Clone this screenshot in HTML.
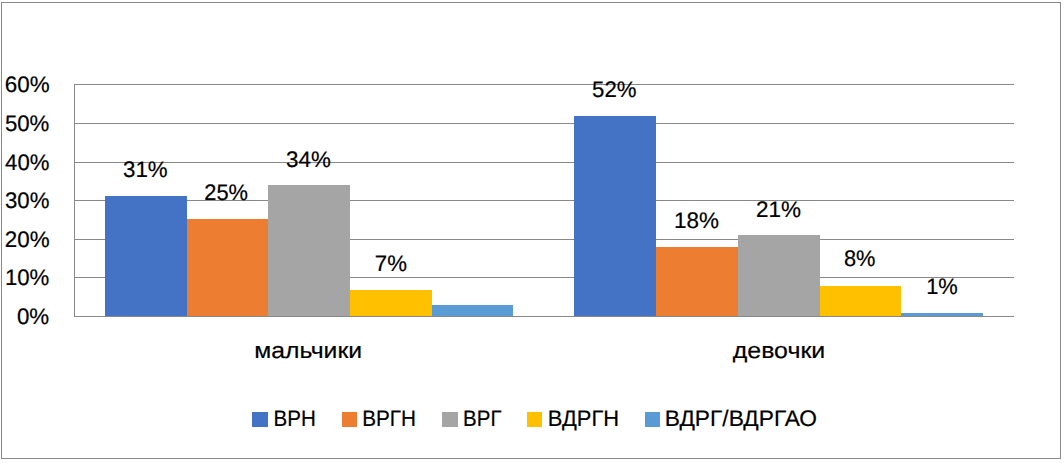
<!DOCTYPE html>
<html><head><meta charset="utf-8"><style>
html,body{margin:0;padding:0;background:#fff;width:1064px;height:463px;overflow:hidden}
svg{display:block}
text{font-family:"Liberation Sans",sans-serif;fill:#000;text-rendering:geometricPrecision;stroke:#000;stroke-width:0.2px}
</style></head><body>
<svg width="1064" height="463" viewBox="0 0 1064 463">
<rect x="0" y="0" width="1064" height="463" fill="#fff"/>
<rect x="1.5" y="2.5" width="1059" height="456" fill="none" stroke="#898989" stroke-width="1"/>
<g stroke="#898989" stroke-width="1" shape-rendering="crispEdges">
<line x1="74" y1="277.5" x2="1014" y2="277.5"/>
<line x1="74" y1="239.5" x2="1014" y2="239.5"/>
<line x1="74" y1="200.5" x2="1014" y2="200.5"/>
<line x1="74" y1="162.5" x2="1014" y2="162.5"/>
<line x1="74" y1="123.5" x2="1014" y2="123.5"/>
<line x1="74" y1="84.5" x2="1014" y2="84.5"/>
<line x1="74" y1="316.5" x2="1014" y2="316.5"/>
<line x1="74.5" y1="84" x2="74.5" y2="317"/>
</g>
<rect x="105" y="196" width="82" height="120" fill="#4472C4"/>
<rect x="187" y="219" width="81" height="97" fill="#ED7D31"/>
<rect x="268" y="185" width="82" height="131" fill="#A5A5A5"/>
<rect x="350" y="290" width="82" height="26" fill="#FFC000"/>
<rect x="432" y="305" width="81" height="11" fill="#5B9BD5"/>
<rect x="574" y="116" width="82" height="200" fill="#4472C4"/>
<rect x="656" y="247" width="82" height="69" fill="#ED7D31"/>
<rect x="738" y="235" width="82" height="81" fill="#A5A5A5"/>
<rect x="820" y="286" width="81" height="30" fill="#FFC000"/>
<rect x="901" y="313" width="82" height="3" fill="#5B9BD5"/>
<g stroke="#898989" stroke-width="1" shape-rendering="crispEdges"><line x1="74" y1="316.5" x2="1014" y2="316.5"/></g>
<rect x="252" y="412" width="16" height="15" fill="#4472C4"/>
<rect x="342" y="412" width="15" height="15" fill="#ED7D31"/>
<rect x="442" y="412" width="16" height="15" fill="#A5A5A5"/>
<rect x="527" y="412" width="15" height="15" fill="#FFC000"/>
<rect x="645" y="412" width="15" height="15" fill="#5B9BD5"/>
<text x="16.93" y="323.90" font-size="22.5" textLength="32.27" lengthAdjust="spacingAndGlyphs">0%</text>
<text x="4.91" y="284.90" font-size="22.5" textLength="44.49" lengthAdjust="spacingAndGlyphs">10%</text>
<text x="4.77" y="246.90" font-size="22.5" textLength="44.82" lengthAdjust="spacingAndGlyphs">20%</text>
<text x="4.95" y="207.90" font-size="22.5" textLength="44.44" lengthAdjust="spacingAndGlyphs">30%</text>
<text x="5.09" y="169.90" font-size="22.5" textLength="44.30" lengthAdjust="spacingAndGlyphs">40%</text>
<text x="4.91" y="130.90" font-size="22.5" textLength="44.48" lengthAdjust="spacingAndGlyphs">50%</text>
<text x="4.86" y="91.90" font-size="22.5" textLength="44.84" lengthAdjust="spacingAndGlyphs">60%</text>
<text x="123.05" y="176.58" font-size="22.5" textLength="44.64" lengthAdjust="spacingAndGlyphs">31%</text>
<text x="204.30" y="199.58" font-size="22.5" textLength="43.78" lengthAdjust="spacingAndGlyphs">25%</text>
<text x="286.05" y="166.58" font-size="22.5" textLength="44.75" lengthAdjust="spacingAndGlyphs">34%</text>
<text x="374.86" y="270.88" font-size="22.5" textLength="32.13" lengthAdjust="spacingAndGlyphs">7%</text>
<text x="592.11" y="96.98" font-size="22.5" textLength="44.48" lengthAdjust="spacingAndGlyphs">52%</text>
<text x="674.09" y="227.78" font-size="22.5" textLength="45.01" lengthAdjust="spacingAndGlyphs">18%</text>
<text x="755.97" y="216.78" font-size="22.5" textLength="45.03" lengthAdjust="spacingAndGlyphs">21%</text>
<text x="843.95" y="266.48" font-size="22.5" textLength="31.53" lengthAdjust="spacingAndGlyphs">8%</text>
<text x="926.13" y="293.78" font-size="22.5" textLength="31.65" lengthAdjust="spacingAndGlyphs">1%</text>
<text x="254.31" y="358.00" font-size="22.5" textLength="107.78" lengthAdjust="spacingAndGlyphs">мальчики</text>
<text x="732.76" y="358.00" font-size="22.5" textLength="92.45" lengthAdjust="spacingAndGlyphs">девочки</text>
<text x="273.51" y="425.80" font-size="22.5" textLength="42.26" lengthAdjust="spacingAndGlyphs">ВРН</text>
<text x="362.20" y="425.80" font-size="22.5" textLength="53.79" lengthAdjust="spacingAndGlyphs">ВРГН</text>
<text x="463.12" y="425.80" font-size="22.5" textLength="38.36" lengthAdjust="spacingAndGlyphs">ВРГ</text>
<text x="547.82" y="425.80" font-size="22.5" textLength="71.26" lengthAdjust="spacingAndGlyphs">ВДРГН</text>
<text x="664.77" y="425.80" font-size="22.5" textLength="152.30" lengthAdjust="spacingAndGlyphs">ВДРГ/ВДРГАО</text>
</svg>
</body></html>
